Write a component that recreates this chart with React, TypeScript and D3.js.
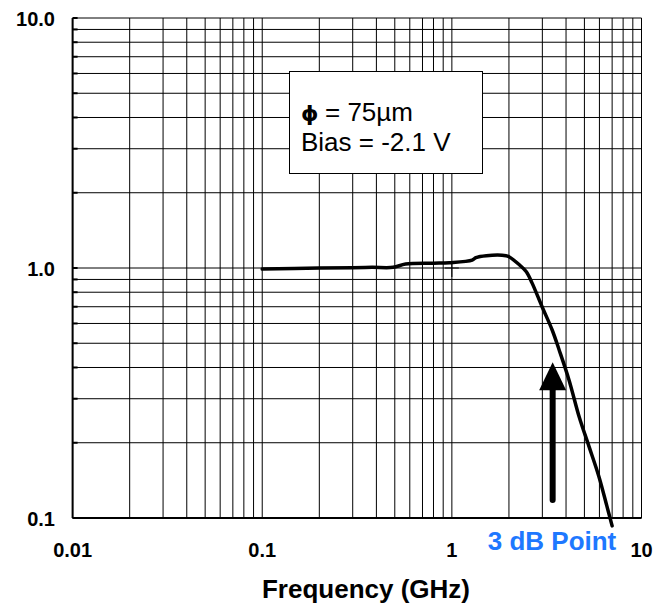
import React from 'react';
import * as d3 from 'd3';

// response curve
const freqGHz = [0.1, 0.2, 0.3, 0.38, 0.49, 0.57, 0.8, 0.97, 1.28, 1.34, 1.52, 1.93, 2.0, 2.27, 2.47, 2.65, 2.99, 3.38, 3.68, 4.15, 4.69, 5.29, 5.97, 6.58, 7.0];
const response = [0.99, 1.0, 1.003, 1.006, 1.006, 1.037, 1.045, 1.05, 1.075, 1.1, 1.12, 1.12, 1.11, 1.03, 0.966, 0.87, 0.7, 0.565, 0.47, 0.356, 0.254, 0.193, 0.146, 0.111, 0.093];

const xTicks = [0.01, 0.1, 1, 10];
const xTickLabels = ['0.01', '0.1', '1', '10'];
const yTicks = [0.1, 1, 10];
const yTickLabels = ['0.1', '1.0', '10.0'];

const arrowFreq = 3.4;
const arrowFrom = 0.118;
const arrowTo = 0.42;
const markerPoint = {f: 1, v: 1};

const legendLines = ['= 75µm', 'Bias = -2.1 V'];
const xTitle = 'Frequency (GHz)';
const noteText = '3 dB Point';

const W = 668, H = 608;
const margin = {top: 18, right: 26.5, bottom: 90, left: 72.6};

const minorValues = (lo: number, hi: number) => {
    const out: number[] = [];
    for (let d = lo; d < hi * 0.999; d *= 10) {
        for (let k = 1; k <= 9; k++) out.push(d * k);
    }
    out.push(hi);
    return out;
};

const App = () => {
    const x = d3.scaleLog().domain([0.01, 10]).range([margin.left, W - margin.right]);
    const y = d3.scaleLog().domain([0.1, 10]).range([H - margin.bottom, margin.top]);

    const data = freqGHz.map((f, i) => ({f, v: response[i]}));
    const line = d3.line<{f: number, v: number}>()
        .x(d => x(d.f))
        .y(d => y(d.v))
        .curve(d3.curveCatmullRom.alpha(0.5));

    const x0 = margin.left, x1 = W - margin.right;
    const y0 = H - margin.bottom, y1 = margin.top;
    const font = 'Arial, "Liberation Sans", Helvetica, sans-serif';

    const ax = x(arrowFreq);
    const aTip = y(arrowTo);
    const aBase = aTip + 28;

    return (
        <svg width={W} height={H} style={{position: 'absolute', left: 0, top: 0, background: '#fff'}}
             fontFamily={font}>
            {minorValues(0.1, 10).map((v, i) => (
                <g key={'h' + i}>
                    <line x1={x0} x2={x1} y1={y(v)} y2={y(v)} stroke="#000" strokeWidth={1} />
                    <line x1={x0} x2={x0 + 5} y1={y(v)} y2={y(v)} stroke="#000" strokeWidth={2} />
                </g>
            ))}
            {minorValues(0.01, 10).map((v, i) => (
                <line key={'v' + i} x1={x(v)} x2={x(v)} y1={y0} y2={y1} stroke="#000" strokeWidth={1} />
            ))}
            <line x1={x0} x2={x0} y1={y1} y2={y0} stroke="#000" strokeWidth={2} />
            <line x1={x0} x2={x1} y1={y0} y2={y0} stroke="#000" strokeWidth={2} />

            {/* legend box */}
            <rect x={289.5} y={71.5} width={193} height={102} fill="#fff" stroke="#000" strokeWidth={1} />
            <text x={301} y={121} fontSize={22} fill="#000"
                  fontFamily='"DejaVu Sans", sans-serif' fontWeight="bold">ϕ</text>
            <text x={325} y={121} fontSize={26} fill="#000">{legendLines[0]}</text>
            <text x={301} y={151} fontSize={26} fill="#000">{legendLines[1]}</text>

            {/* response curve */}
            <path d={line(data) || ''} fill="none" stroke="#000" strokeWidth={3.5} strokeLinejoin="round"
                  strokeLinecap="round" />
            <line x1={x(markerPoint.f) - 7} x2={x(markerPoint.f) + 7} y1={y(markerPoint.v)} y2={y(markerPoint.v)}
                  stroke="#000" strokeWidth={1} />
            <line x1={x(markerPoint.f)} x2={x(markerPoint.f)} y1={y(markerPoint.v) - 6} y2={y(markerPoint.v) + 9}
                  stroke="#000" strokeWidth={1} />

            {/* 3 dB arrow */}
            <line x1={ax} x2={ax} y1={y(arrowFrom)} y2={aBase} stroke="#000" strokeWidth={6} strokeLinecap="round" />
            <path d={`M${ax},${aTip} L${ax - 13.5},${aBase} L${ax + 13.5},${aBase} Z`} fill="#000" />

            {xTicks.map((t, i) => (
                <text key={'xt' + i} x={x(t)} y={557} textAnchor="middle"
                      fontSize={20} fontWeight="bold">{xTickLabels[i]}</text>
            ))}
            {yTicks.map((t, i) => (
                <text key={'yt' + i} x={55} y={y(t) + 1} dy="0.35em" textAnchor="end"
                      fontSize={20} fontWeight="bold">{yTickLabels[i]}</text>
            ))}
            <text x={552} y={550} textAnchor="middle" fontSize={26} fontWeight="bold" fill="#1e78ff">{noteText}</text>
            <text x={366} y={598} textAnchor="middle" fontSize={26} fontWeight="bold">{xTitle}</text>
        </svg>
    );
};

export default App;
